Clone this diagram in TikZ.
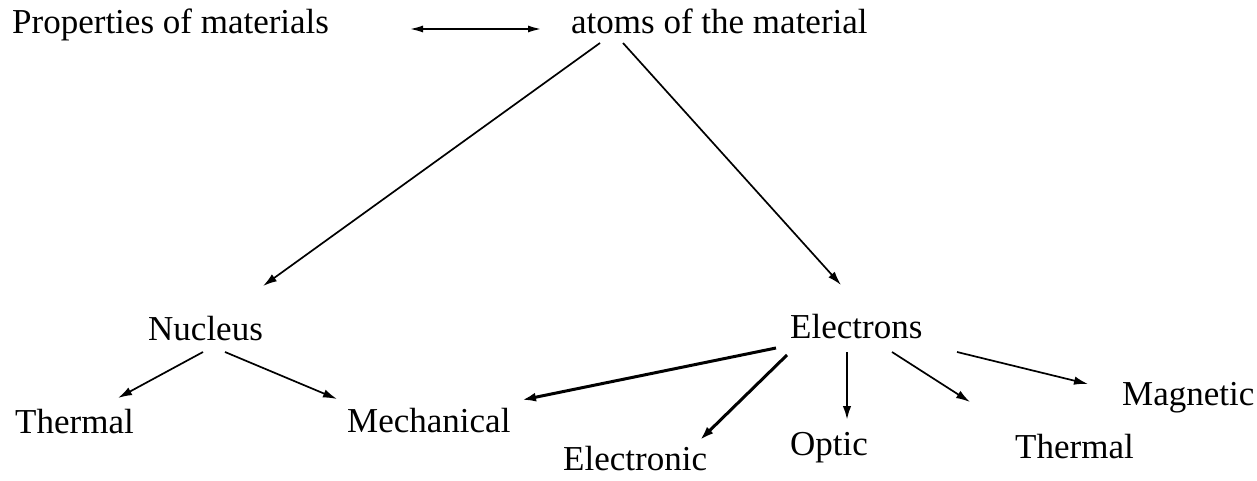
\documentclass[tikz,border=0pt]{standalone}
\usepackage{fontspec}
\setmainfont{Liberation Serif}
\usetikzlibrary{arrows.meta}
\begin{document}
\begin{tikzpicture}[x=1pt,y=-1pt,
  lbl/.style={anchor=base west,inner sep=0pt,font=\fontsize{35}{42}\selectfont},
  conn/.style={line width=1.7pt,-{Latex[length=14pt,width=8.5pt]}},
  thickconn/.style={line width=3pt,-{Latex[length=14pt,width=9pt]}},
  midconn/.style={line width=2.3pt,-{Latex[length=14pt,width=8.5pt]}},
  dbl/.style={line width=2.2pt,{Latex[length=14pt,width=7pt]}-{Latex[length=14pt,width=7pt]}}]
\useasboundingbox (0,0) rectangle (1257,481);
\node[lbl] (prop) at (12,34) {Properties of materials};
\node[lbl] (atoms) at (571,34) {atoms of the material};
\node[lbl] (nuc) at (148,340) {Nucleus};
\node[lbl] (ele) at (790,338) {Electrons};
\node[lbl] (th1) at (15,433) {Thermal};
\node[lbl] (mech) at (347,432) {Mechanical};
\node[lbl] (elec) at (563,470) {Electronic};
\node[lbl] (opt) at (790,455) {Optic};
\node[lbl] (th2) at (1015,458) {Thermal};
\node[lbl] (mag) at (1122,405) {Magnetic};
\draw[dbl] ([shift={(397,-5)}]prop.base west) -- ([shift={(-29,-5)}]atoms.base west);
\draw[conn] ([shift={(29,9)}]atoms.base west) -- ([shift={(115,-54)}]nuc.base west);
\draw[conn] ([shift={(52,9)}]atoms.base west) -- ([shift={(51,-53)}]ele.base west);
\draw[conn] ([shift={(55,12)}]nuc.base west) -- ([shift={(103,-35)}]th1.base west);
\draw[conn] ([shift={(77,12)}]nuc.base west) -- ([shift={(-10,-33)}]mech.base west);
\draw[thickconn] ([shift={(-14,10)}]ele.base west) -- ([shift={(175,-32)}]mech.base west);
\draw[thickconn] ([shift={(-3,17)}]ele.base west) -- ([shift={(137,-30)}]elec.base west);
\draw[midconn] ([shift={(57,14)}]ele.base west) -- ([shift={(57,-35)}]opt.base west);
\draw[conn] ([shift={(102,14)}]ele.base west) -- ([shift={(-45,-56)}]th2.base west);
\draw[conn] ([shift={(167,14)}]ele.base west) -- ([shift={(-34,-21)}]mag.base west);
\end{tikzpicture}
\end{document}
